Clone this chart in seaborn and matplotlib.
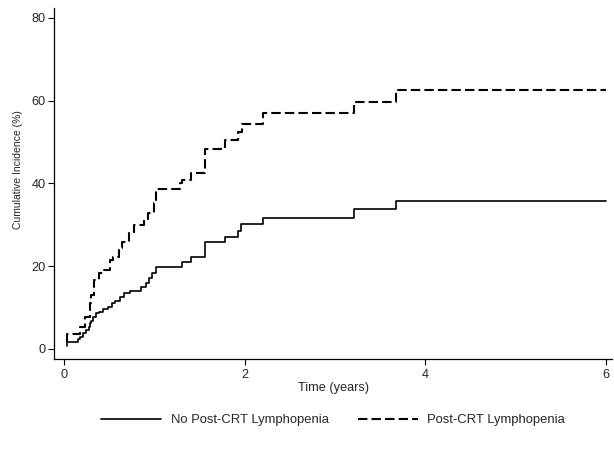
import pandas as pd
import seaborn as sns
import matplotlib.pyplot as plt

# cumulative incidence (%) step points
times_no = [0.028, 0.028, 0.156, 0.18, 0.21, 0.24, 0.27, 0.29, 0.30, 0.32, 0.35, 0.39,
            0.43, 0.48, 0.53, 0.56, 0.62, 0.66, 0.73, 0.85, 0.91, 0.94, 0.97, 1.017,
            1.30, 1.40, 1.56, 1.78, 1.92, 1.96, 2.20, 3.21, 3.67, 6.0]
cif_no = [0.7, 1.8, 2.4, 3.0, 3.8, 4.6, 5.4, 6.2, 6.8, 7.8, 8.6, 9.0,
          9.6, 10.2, 11.0, 11.7, 12.6, 13.5, 14.1, 14.9, 15.9, 17.1, 18.3, 19.9,
          21.1, 22.2, 25.9, 27.1, 28.6, 30.1, 31.6, 33.8, 35.85, 35.85]

times_yes = [0.028, 0.028, 0.17, 0.23, 0.28, 0.30, 0.33, 0.39, 0.44, 0.51, 0.54, 0.61,
             0.64, 0.72, 0.77, 0.88, 0.93, 0.99, 1.02, 1.28, 1.31, 1.40, 1.56, 1.78,
             1.92, 1.97, 2.20, 3.21, 3.67, 6.0]
cif_yes = [1.8, 3.6, 5.4, 7.8, 11.0, 13.1, 16.7, 18.3, 19.1, 21.5, 22.3, 24.3,
           25.9, 28.0, 30.0, 31.2, 32.8, 35.2, 38.6, 40.0, 40.8, 42.6, 48.3, 50.5,
           52.5, 54.4, 57.0, 59.6, 62.6, 62.6]

x_ticks = [0, 2, 4, 6]
y_ticks = [0, 20, 40, 60, 80]

df_no = pd.DataFrame({'time': times_no, 'cif': cif_no})
df_yes = pd.DataFrame({'time': times_yes, 'cif': cif_yes})

sns.set_style('ticks')
plt.rcParams['font.family'] = ['Liberation Sans', 'DejaVu Sans']

fig = plt.figure(figsize=(6.14, 4.53), dpi=100)
ax = fig.add_axes([0.088, 0.2075, 0.909, 0.775])

sns.lineplot(data=df_no, x='time', y='cif', estimator=None, drawstyle='steps-post',
             color='black', linewidth=1.2, label='No Post-CRT Lymphopenia', ax=ax)
sns.lineplot(data=df_yes, x='time', y='cif', estimator=None, drawstyle='steps-post',
             color='black', linewidth=1.5, label='Post-CRT Lymphopenia', ax=ax)
ax.lines[1].set_dashes((4.5, 2))

ax.set_xlim(-0.113, 6.07)
ax.set_ylim(-2.42, 82.4)
ax.set_xticks(x_ticks)
ax.set_yticks(y_ticks)
ax.tick_params(axis='both', labelsize=9.2, length=4, width=0.8, color='black', pad=2)
ax.tick_params(axis='x', pad=3)
for s in ['left', 'bottom']:
    ax.spines[s].set_linewidth(0.9)
    ax.spines[s].set_color('black')
sns.despine(ax=ax)

ax.set_xlabel('Time (years)', fontsize=9.2, labelpad=1)
ax.set_ylabel('Cumulative Incidence (%)', fontsize=7.5)
ax.yaxis.set_label_coords(-0.056, 0.541)

leg = ax.legend(loc='center', bbox_to_anchor=(0.5, -0.174), ncol=2, frameon=False,
                fontsize=9.4, handlelength=4.6, handletextpad=0.73, columnspacing=2.2)
leg.get_lines()[1].set_dashes((4.5, 2))

fig.savefig('out.png', dpi=100)
